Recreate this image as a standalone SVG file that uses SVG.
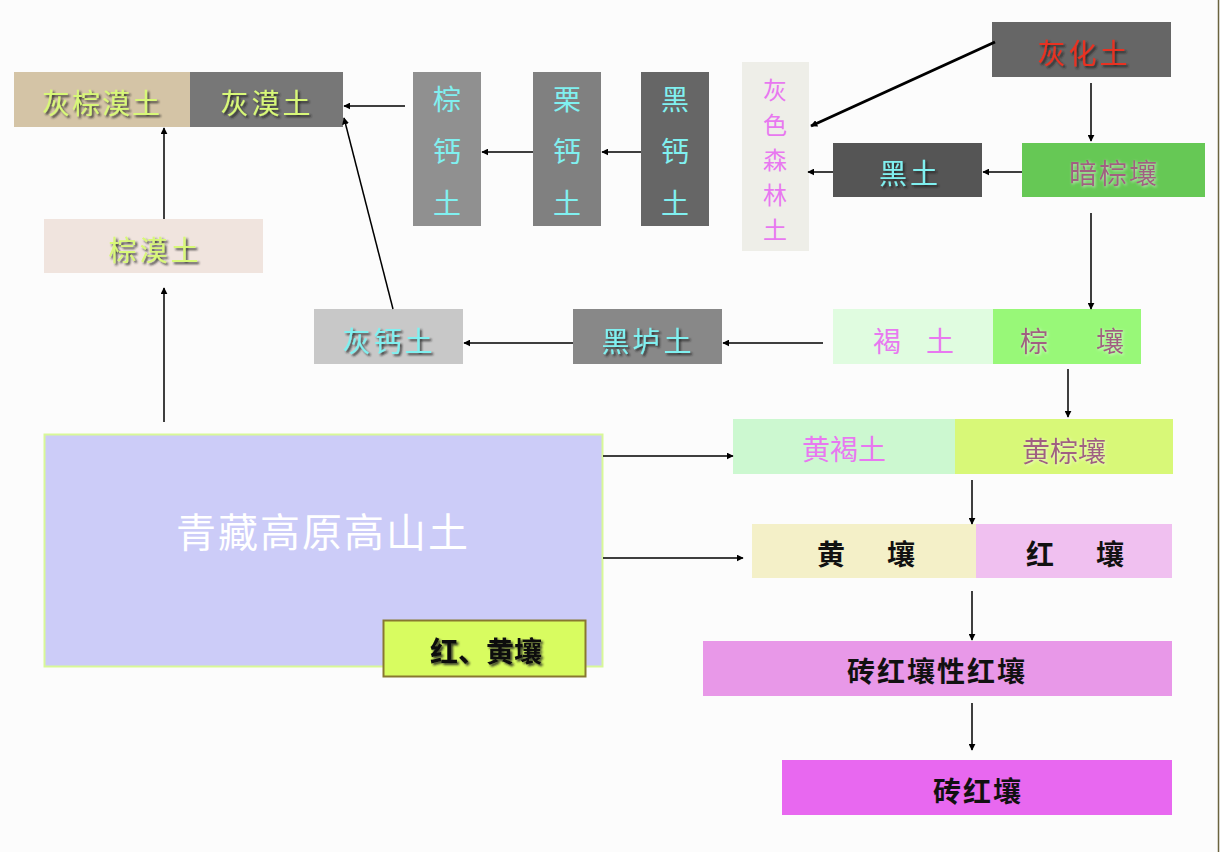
<svg xmlns="http://www.w3.org/2000/svg" width="1220" height="852" viewBox="0 0 1220 852">
<defs>
<style>
text{font-family:"Noto Sans CJK SC","Noto Sans CJK JP",sans-serif;text-anchor:middle;dominant-baseline:central;}
.t28{font-size:28px;}
.sh{filter:url(#shadow);}
.shl{filter:url(#glow);}
.conn line{stroke:#000;stroke-width:1.5;marker-end:url(#arr);}
.conn .thick{stroke-width:3;}
</style>
<filter id="shadow" x="-20%" y="-20%" width="140%" height="140%">
<feDropShadow dx="2" dy="2" stdDeviation="1" flood-color="#222" flood-opacity="0.85"/>
</filter>
<filter id="glow" x="-20%" y="-20%" width="140%" height="140%">
<feDropShadow dx="1" dy="1" stdDeviation="1.5" flood-color="#fff" flood-opacity="0.6"/>
</filter>
<marker id="arr" viewBox="0 0 10 10" refX="9" refY="5" markerWidth="7" markerHeight="7" markerUnits="userSpaceOnUse" orient="auto">
<path d="M0,0 L10,5 L0,10 z" fill="#000"/>
</marker>
</defs>
<rect x="0" y="0" width="1220" height="852" fill="#fcfcfc"/>
<line x1="1218.5" y1="0" x2="1218.5" y2="852" stroke="#6b6440" stroke-width="1.5"/>

<g id="huizongmotu"><rect x="14" y="72" width="176" height="55" fill="#d4c4a6"/><text x="102" y="102" class="t28 sh" fill="#d8f878" letter-spacing="2">灰棕漠土</text></g>
<g id="huimotu"><rect x="190" y="72" width="153" height="55" fill="#777777"/><text x="267" y="102" class="t28 sh" fill="#d8f878" letter-spacing="3">灰漠土</text></g>
<g id="zongmotu"><rect x="44" y="219" width="219" height="54" fill="#f0e4de"/><text x="155" y="249" class="t28 sh" fill="#d8f878" letter-spacing="3">棕漠土</text></g>

<g id="zonggaitu"><rect x="413" y="72" width="68" height="154" fill="#909090"/><text x="447" y="98" class="t28" fill="#80f0f0">棕</text><text x="447" y="150" class="t28" fill="#80f0f0">钙</text><text x="447" y="202" class="t28" fill="#80f0f0">土</text></g>
<g id="ligaitu"><rect x="533" y="72" width="68" height="154" fill="#808080"/><text x="567" y="98" class="t28" fill="#80f0f0">栗</text><text x="567" y="150" class="t28" fill="#80f0f0">钙</text><text x="567" y="202" class="t28" fill="#80f0f0">土</text></g>
<g id="heigaitu"><rect x="641" y="72" width="68" height="154" fill="#666666"/><text x="675" y="98" class="t28" fill="#80f0f0">黑</text><text x="675" y="150" class="t28" fill="#80f0f0">钙</text><text x="675" y="202" class="t28" fill="#80f0f0">土</text></g>

<g id="huisesenlintu"><rect x="742" y="62" width="67" height="189" fill="#eeeee8"/><text x="775" y="88" font-size="24" fill="#e878f0">灰</text><text x="775" y="123" font-size="24" fill="#e878f0">色</text><text x="775" y="158" font-size="24" fill="#e878f0">森</text><text x="775" y="193" font-size="24" fill="#e878f0">林</text><text x="775" y="228" font-size="24" fill="#e878f0">土</text></g>

<g id="huihuatu"><rect x="992" y="22" width="179" height="55" fill="#666666"/><text x="1084" y="52" class="t28 sh" fill="#e83020" letter-spacing="3">灰化土</text></g>
<g id="heitu"><rect x="833" y="143" width="149" height="54" fill="#555555"/><text x="910" y="172" class="t28 sh" fill="#80f0f0" letter-spacing="3">黑土</text></g>
<g id="anzongrang"><rect x="1022" y="143" width="183" height="54" fill="#66c855"/><text x="1114" y="172" class="t28 shl" fill="#a06080" letter-spacing="2">暗棕壤</text></g>

<g id="huigaitu"><rect x="314" y="309" width="149" height="55" fill="#c8c8c8"/><text x="389" y="340" class="t28 sh" fill="#80f0f0" letter-spacing="3">灰钙土</text></g>
<g id="heilutu"><rect x="573" y="309" width="149" height="55" fill="#888888"/><text x="648" y="340" class="t28 sh" fill="#80f0f0" letter-spacing="3">黑垆土</text></g>

<g id="hetu"><rect x="833" y="309" width="160" height="55" fill="#e0fce0"/><text x="887" y="340" class="t28" fill="#e878f0">褐</text><text x="940" y="340" class="t28" fill="#e878f0">土</text></g>
<g id="zongrang"><rect x="993" y="309" width="148" height="55" fill="#98f878"/><text x="1034" y="340" class="t28 shl" fill="#a06080">棕</text><text x="1110" y="340" class="t28 shl" fill="#a06080">壤</text></g>

<g id="huanghetu"><rect x="733" y="419" width="222" height="55" fill="#ccf8d0"/><text x="844" y="448" class="t28" fill="#e878f0">黄褐土</text></g>
<g id="huangzongrang"><rect x="955" y="419" width="218" height="55" fill="#d8f878"/><text x="1064" y="450" class="t28 shl" fill="#a06080">黄棕壤</text></g>

<g id="huangrang"><rect x="752" y="524" width="224" height="54" fill="#f4f0c8"/><text x="831" y="553" class="t28" fill="#111" font-weight="bold">黄</text><text x="901" y="553" class="t28" fill="#111" font-weight="bold">壤</text></g>
<g id="hongrang"><rect x="976" y="524" width="196" height="54" fill="#f0c0f0"/><text x="1040" y="553" class="t28" fill="#111" font-weight="bold">红</text><text x="1110" y="553" class="t28" fill="#111" font-weight="bold">壤</text></g>

<g id="zhuanhongrangxinghongrang"><rect x="703" y="641" width="469" height="55" fill="#e898e8"/><text x="937" y="670" class="t28" fill="#111" font-weight="bold" letter-spacing="2">砖红壤性红壤</text></g>
<g id="zhuanhongrang"><rect x="782" y="760" width="390" height="55" fill="#e868f0"/><text x="978" y="790" class="t28" fill="#111" font-weight="bold" letter-spacing="2">砖红壤</text></g>

<g id="qingzanggaoyuan"><rect x="44.5" y="434.5" width="558" height="232" fill="#ccccf8" stroke="#d8f898" stroke-width="2"/><text x="323" y="530" font-size="40" fill="#ffffff" letter-spacing="2">青藏高原高山土</text></g>
<g id="honghuangrang"><rect x="383.5" y="620.5" width="202" height="56" fill="#d8fc60" stroke="#887830" stroke-width="2"/><text x="486" y="650" class="t28 sh" fill="#111" font-weight="bold">红、黄壤</text></g>

<g class="conn" id="connectors">
<line x1="405" y1="106" x2="344" y2="106"/>
<line x1="164" y1="219" x2="164" y2="128"/>
<line x1="164" y1="422" x2="164" y2="288"/>
<line x1="393" y1="309" x2="344" y2="118"/>
<line x1="533" y1="152" x2="482" y2="152"/>
<line x1="641" y1="152" x2="602" y2="152"/>
<line class="thick" x1="995" y1="42" x2="811" y2="126"/>
<line x1="833" y1="172" x2="808" y2="172"/>
<line x1="1022" y1="172" x2="983" y2="172"/>
<line x1="1091" y1="83" x2="1091" y2="141"/>
<line x1="1091" y1="213" x2="1091" y2="309"/>
<line x1="823" y1="343" x2="723" y2="343"/>
<line x1="573" y1="343" x2="464" y2="343"/>
<line x1="1068" y1="369" x2="1068" y2="417"/>
<line x1="603" y1="456" x2="733" y2="456"/>
<line x1="603" y1="558" x2="743" y2="558"/>
<line x1="972" y1="480" x2="972" y2="524"/>
<line x1="972" y1="591" x2="972" y2="640"/>
<line x1="972" y1="703" x2="972" y2="750"/>
</g>
</svg>
